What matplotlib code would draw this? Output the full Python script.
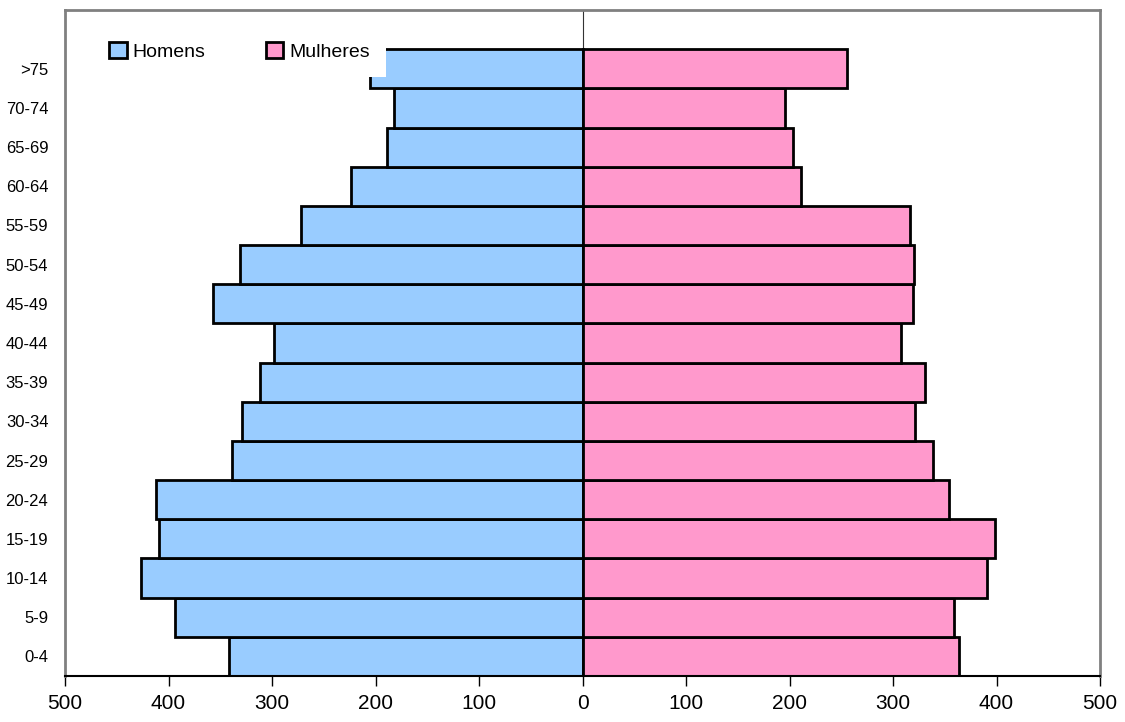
import matplotlib
matplotlib.use("Agg")
import matplotlib.pyplot as plt
from matplotlib.patches import Patch
import numpy as np

plt.rcParams['font.family'] = ['Liberation Sans', 'DejaVu Sans']

age_groups = ["0-4", "5-9", "10-14", "15-19", "20-24", "25-29", "30-34", "35-39",
              "40-44", "45-49", "50-54", "55-59", "60-64", "65-69", "70-74", ">75"]
homens = [342, 394, 427, 409, 412, 339, 329, 312, 298, 357, 331, 272, 224, 189, 182, 205]
mulheres = [364, 359, 391, 399, 354, 339, 321, 331, 308, 319, 320, 316, 211, 203, 196, 256]
xticks = [-500, -400, -300, -200, -100, 0, 100, 200, 300, 400, 500]

fig = plt.figure(figsize=(11.25, 7.22), dpi=100)
ax = fig.add_axes([65/1125, 1 - 676/722, 1035/1125, 666/722])

y = np.arange(len(age_groups))
ax.axvline(0, color='#333333', lw=0.8, zorder=1)
ax.barh(y, -np.array(homens), height=1.0, color='#99CCFF', edgecolor='black', linewidth=2, zorder=2, label='Homens')
ax.barh(y, mulheres, height=1.0, color='#FF99CC', edgecolor='black', linewidth=2, zorder=2, label='Mulheres')

ax.set_xlim(-500, 500)
ax.set_ylim(-0.5, len(age_groups) + 0.5)
ax.set_xticks(xticks)
ax.set_xticklabels([str(abs(v)) for v in xticks], fontsize=15)
ax.set_yticks(y)
ax.set_yticklabels(age_groups, fontsize=12)
ax.tick_params(axis='y', length=0, pad=12)
ax.tick_params(axis='x', length=7, width=1, direction='out', pad=6)

for side in ['left', 'top', 'right']:
    ax.spines[side].set_color('#808080')
    ax.spines[side].set_linewidth(2)
ax.spines['bottom'].set_color('black')
ax.spines['bottom'].set_linewidth(1.5)

handles = [Patch(facecolor='#99CCFF', edgecolor='black', linewidth=2, label='Homens'),
           Patch(facecolor='#FF99CC', edgecolor='black', linewidth=2, label='Mulheres')]
leg = ax.legend(handles=handles, loc='upper left', bbox_to_anchor=(0.027, 0.977),
                ncol=2, frameon=True, fontsize=14, handlelength=0.9, handleheight=0.9,
                handletextpad=0.3, columnspacing=3.1, borderpad=0.85, borderaxespad=0,
                fancybox=False)
leg.get_frame().set_facecolor('white')
leg.get_frame().set_edgecolor('none')
leg.get_frame().set_alpha(1)
leg.set_zorder(5)

fig.savefig('out.png', dpi=100)
